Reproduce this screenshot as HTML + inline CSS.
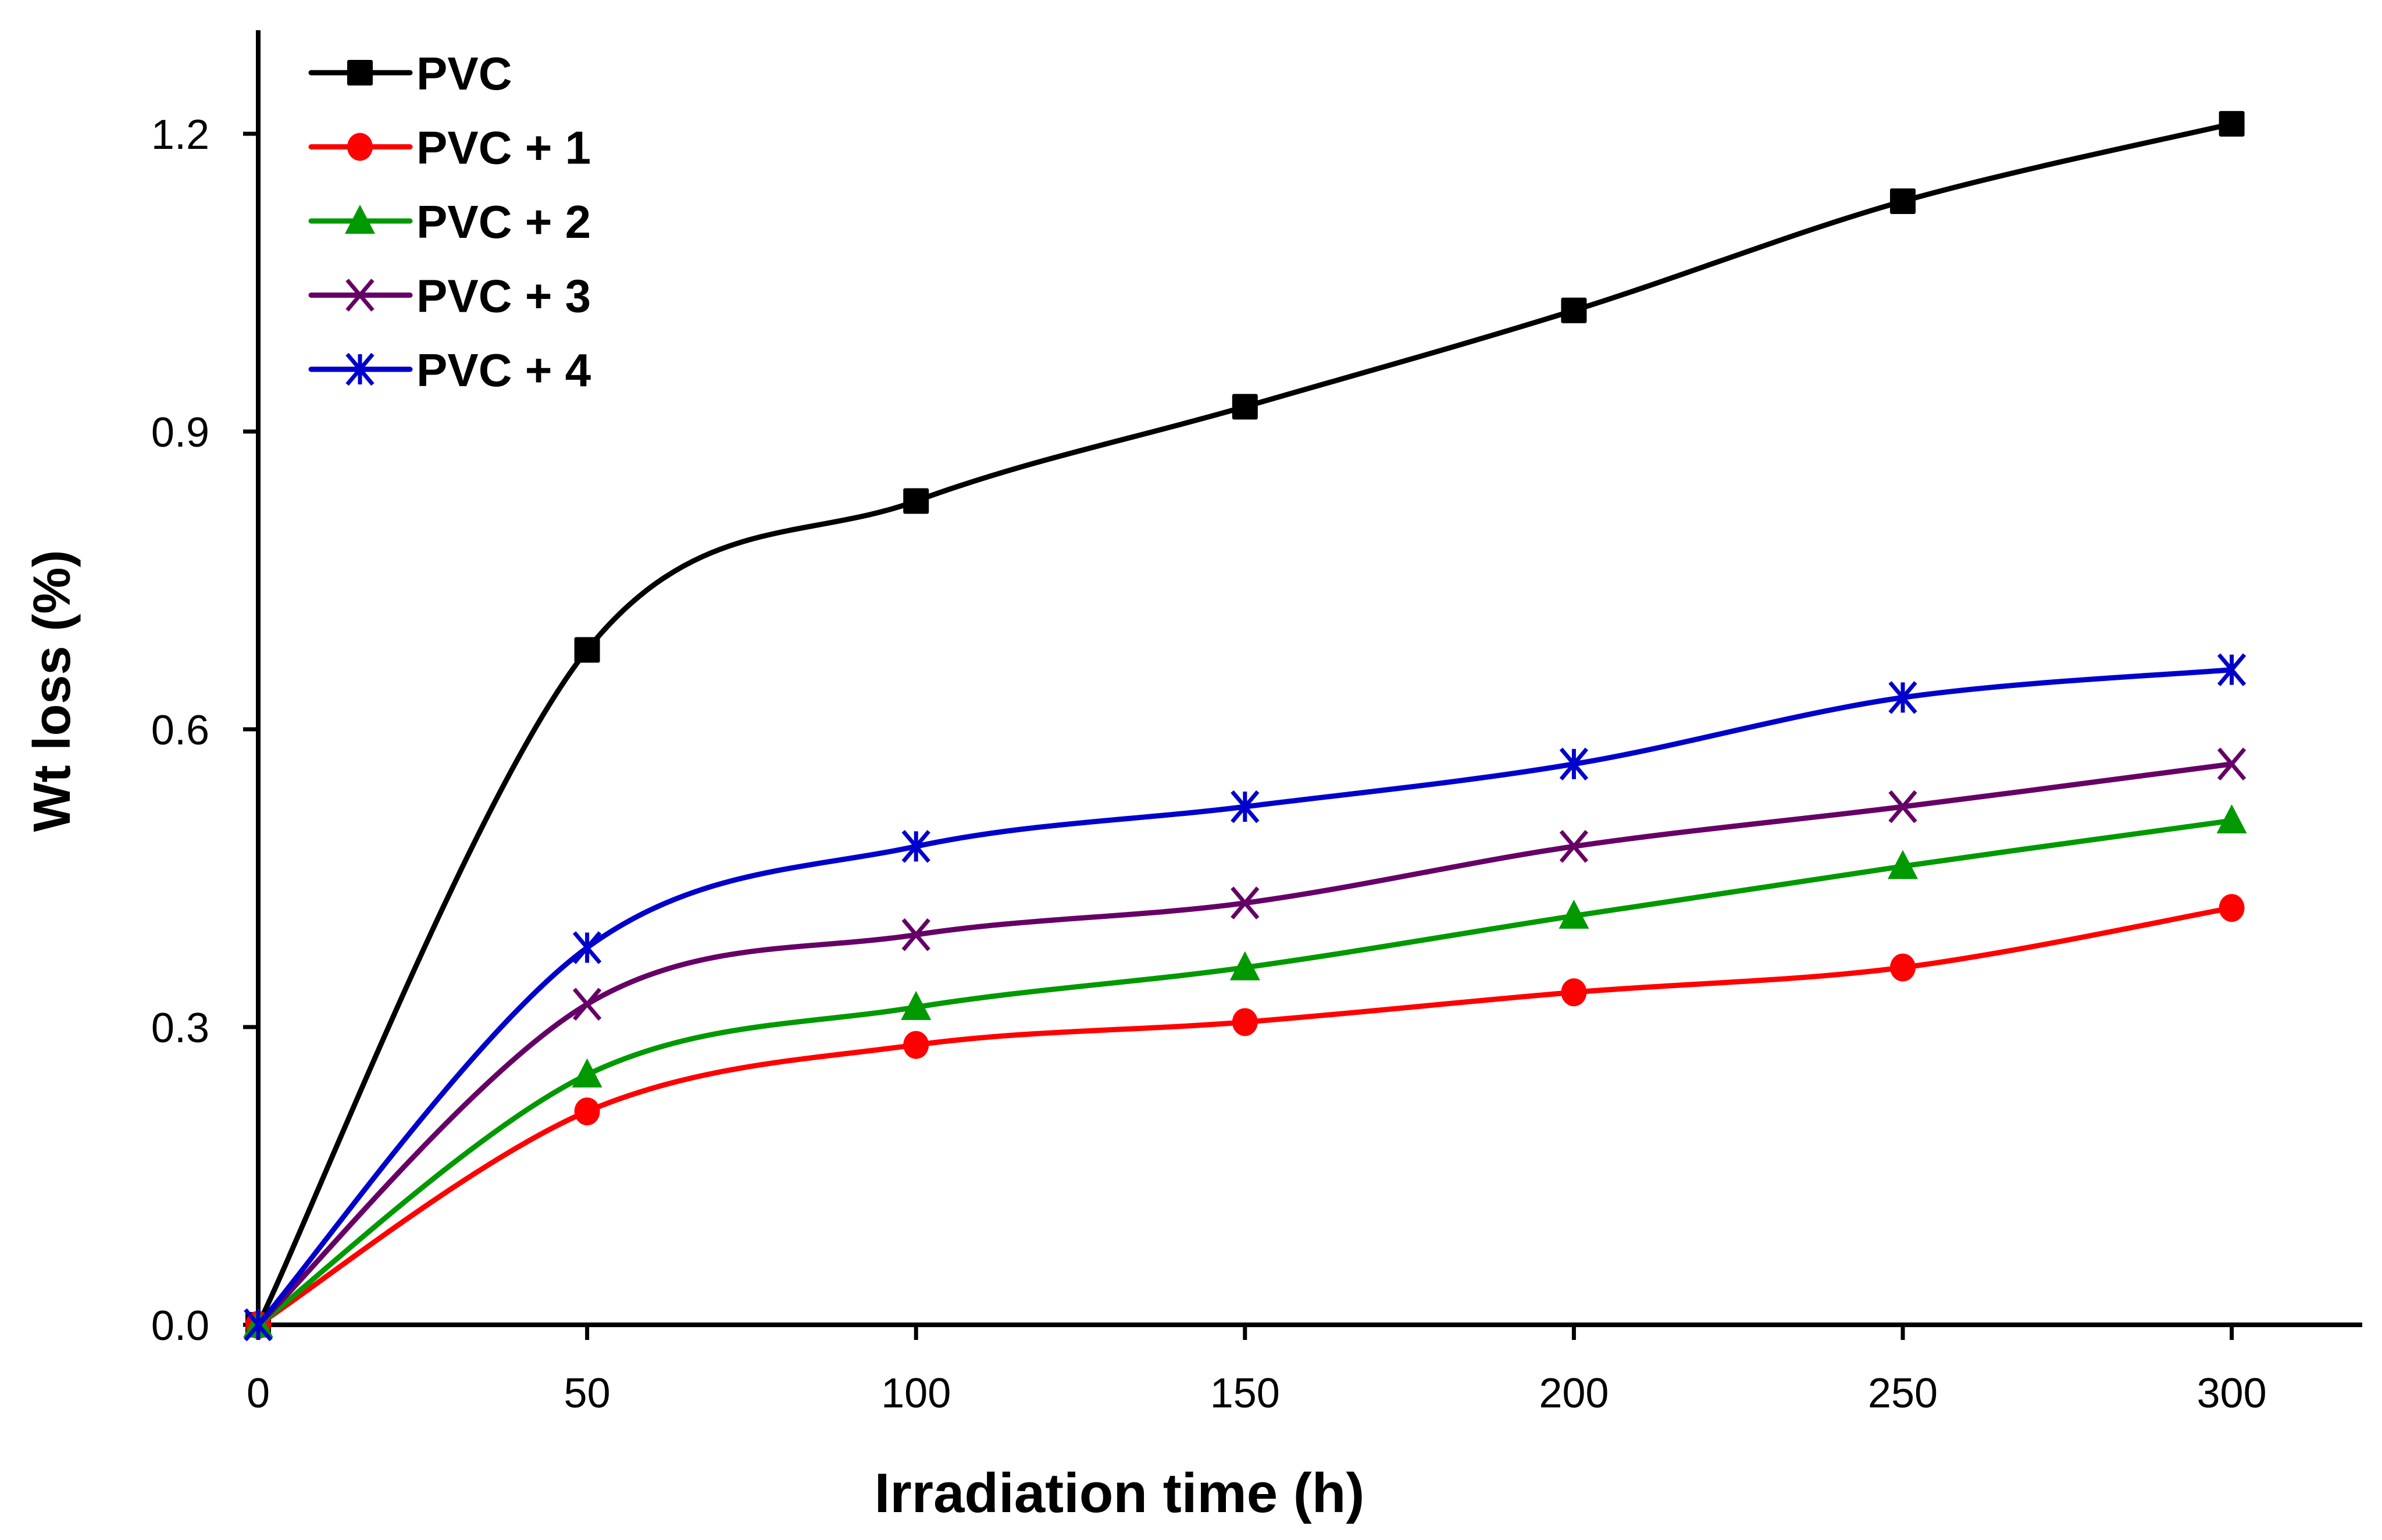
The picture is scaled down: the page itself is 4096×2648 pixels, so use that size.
<!DOCTYPE html>
<html><head><meta charset="utf-8"><style>
html,body{margin:0;padding:0;background:#fff}
svg{display:block}
text{font-family:"Liberation Sans",sans-serif}
</style></head><body>
<svg id="chart" width="4096" height="2648" viewBox="0 0 4096 2648" xmlns="http://www.w3.org/2000/svg">
<g id="axes"></g><g id="series"></g><g id="legend"></g>
<text transform="translate(120,1188) rotate(-90)" text-anchor="middle" font-size="90" font-weight="bold">Wt loss (%)</text>
<text x="1925" y="2600" text-anchor="middle" font-size="96" font-weight="bold">Irradiation time (h)</text>
</svg>
<script>
const categories=[0,50,100,150,200,250,300];
const pvc=[0,0.68,0.83,0.925,1.022,1.132,1.21];
const pvc1=[0,0.215,0.282,0.305,0.335,0.36,0.42];
const pvc2=[0,0.252,0.32,0.36,0.412,0.462,0.508];
const pvc3=[0,0.323,0.393,0.425,0.482,0.522,0.565];
const pvc4=[0,0.38,0.482,0.522,0.565,0.632,0.66];
const seriesNames=["PVC","PVC + 1","PVC + 2","PVC + 3","PVC + 4"];
const xTicks=[0,50,100,150,200,250,300];
const yTicks=[0.0,0.3,0.6,0.9,1.2];

const NS="http://www.w3.org/2000/svg";
const X=v=>444+v*(565.6/50);
const Y=v=>2278-v*(512/0.3);
function mk(tag,attrs,parent){const e=document.createElementNS(NS,tag);for(const k in attrs)e.setAttribute(k,attrs[k]);parent.appendChild(e);return e;}
const axes=document.getElementById('axes'),sg=document.getElementById('series'),lg=document.getElementById('legend');

let a=mk('line',{x1:444,y1:52,x2:444,y2:2282,stroke:'#000','stroke-width':8},axes);


a=mk('line',{x1:440,y1:2278,x2:4062,y2:2278,stroke:'#000','stroke-width':8},axes);


yTicks.forEach(t=>{
  const tk=mk('line',{x1:418,y1:Y(t),x2:444,y2:Y(t),stroke:'#000','stroke-width':7},axes);
  
  
  const tx=mk('text',{x:360,y:Y(t)+26,'text-anchor':'end','font-size':72},axes);
  tx.textContent=t.toFixed(1);
  
  
});
xTicks.forEach(t=>{
  const tk=mk('line',{x1:X(t),y1:2278,x2:X(t),y2:2304,stroke:'#000','stroke-width':7},axes);
  
  
  const tx=mk('text',{x:X(t),y:2420,'text-anchor':'middle','font-size':72},axes);
  tx.textContent=t;
  
  
});

const colors=['#000000','#ff0000','#009900','#660066','#0000cc'];
const markers=['square','circle','triangle','x','star'];
const data=[pvc,pvc1,pvc2,pvc3,pvc4];

function smooth(pts){
  let d=`M${pts[0][0]},${pts[0][1]}`;
  for(let i=0;i<pts.length-1;i++){
    const p0=pts[Math.max(0,i-1)],p1=pts[i],p2=pts[i+1],p3=pts[Math.min(pts.length-1,i+2)];
    const t=1/6;
    const c1=[p1[0]+(p2[0]-p0[0])*t,p1[1]+(p2[1]-p0[1])*t];
    const c2=[p2[0]-(p3[0]-p1[0])*t,p2[1]-(p3[1]-p1[1])*t];
    d+=` C${c1[0]},${c1[1]} ${c2[0]},${c2[1]} ${p2[0]},${p2[1]}`;
  }
  return d;
}
function marker(type,x,y,c,parent){
  const s=22;let e;
  if(type==='square')e=mk('rect',{x:x-s,y:y-s,width:2*s,height:2*s,rx:3,fill:c},parent);
  else if(type==='circle')e=mk('ellipse',{cx:x,cy:y,rx:s,ry:s+2,fill:c},parent);
  else if(type==='triangle')e=mk('polygon',{points:`${x},${y-s-6} ${x+s+4},${y+s} ${x-s-4},${y+s}`,fill:c,'stroke-linejoin':'round'},parent);
  else if(type==='x')e=mk('path',{d:`M${x-s},${y-s-4}L${x+s},${y+s+4}M${x+s},${y-s-4}L${x-s},${y+s+4}`,stroke:c,'stroke-width':7,fill:'none'},parent);
  else e=mk('path',{d:`M${x-s},${y-s-4}L${x+s},${y+s+4}M${x+s},${y-s-4}L${x-s},${y+s+4}M${x},${y-s-4}L${x},${y+s+4}`,stroke:c,'stroke-width':7,fill:'none'},parent);
  return e;
}
data.forEach((vals,si)=>{
  const g=mk('g',{},sg);
  
  
  const pts=categories.map((c,i)=>[X(c),Y(vals[i])]);
  const p=mk('path',{d:smooth(pts),stroke:colors[si],'stroke-width':9,fill:'none'},g);
  
  
  pts.forEach(pt=>{
    const m=marker(markers[si],pt[0],pt[1],colors[si],g);
    
    
  });
  const ly=125+si*127.5;
  const lgG=mk('g',{},lg);
  
  
  mk('line',{x1:535,y1:ly,x2:705,y2:ly,stroke:colors[si],'stroke-width':9,'stroke-linecap':'round'},lgG);
  marker(markers[si],619,ly,colors[si],lgG);
  const t=mk('text',{x:716,y:ly+29,'font-size':80,'font-weight':'bold'},lgG);
  t.textContent=seriesNames[si];
});
</script>
</body></html>
